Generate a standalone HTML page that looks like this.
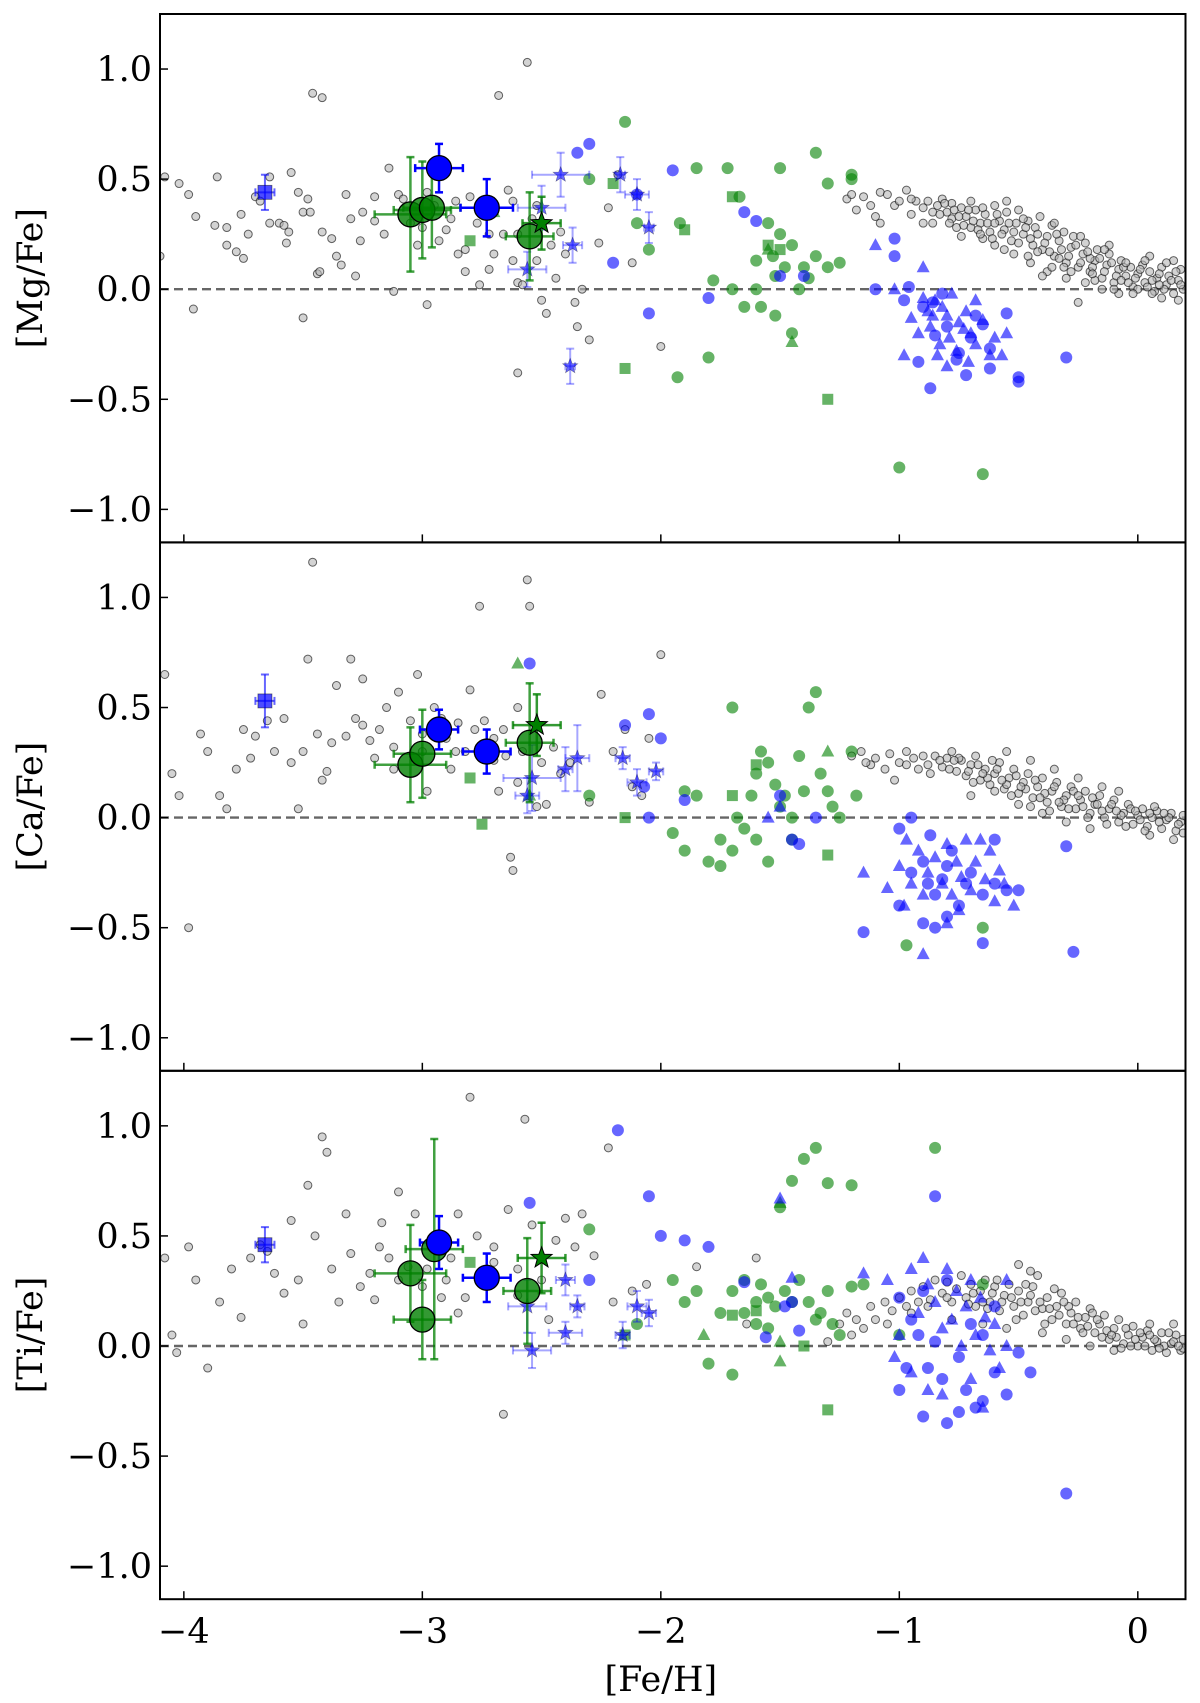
<!DOCTYPE html>
<html><head><meta charset="utf-8">
<style>
html,body{margin:0;padding:0;background:#fff;}
svg{display:block;font-family:"DejaVu Serif","Liberation Serif",serif;}
</style></head>
<body>
<svg id="chart" width="1200" height="1703" viewBox="0 0 1200 1703" xmlns="http://www.w3.org/2000/svg"></svg>
<script>
// ---- data ----
const panelLabels = ["[Mg/Fe]","[Ca/Fe]","[Ti/Fe]"];
const yTicks = [-1.0,-0.5,0.0,0.5,1.0];
const yTickLabels = ["\u22121.0","\u22120.5","0.0","0.5","1.0"];
const xTicks = [-4,-3,-2,-1,0];
const xTickLabels = ["\u22124","\u22123","\u22122","\u22121","0"];

const greyMg = [[-4.08,0.51],[-4.02,0.48],[-3.98,0.43],[-3.95,0.33],[-3.87,0.29],[-3.82,0.28],[-3.82,0.2],[-3.78,0.17],[-3.76,0.34],[-3.75,0.14],[-3.73,0.25],[-3.7,0.42],[-3.68,0.4],[-3.64,0.51],[-3.64,0.3],[-3.6,0.3],[-3.58,0.29],[-3.57,0.21],[-3.56,0.26],[-3.55,0.53],[-3.52,0.44],[-3.5,0.35],[-3.48,0.41],[-3.47,0.35],[-3.46,0.89],[-3.42,0.87],[-3.44,0.07],[-3.43,0.08],[-3.42,0.26],[-3.38,0.23],[-3.36,0.15],[-3.34,0.11],[-3.32,0.43],[-3.3,0.32],[-3.28,0.06],[-3.25,0.35],[-3.2,0.31],[-3.16,0.25],[-3.14,0.55],[-3.1,0.43],[-3.08,0.41],[-3.05,0.3],[-3.02,0.2],[-2.98,0.44],[-2.95,0.38],[-2.9,0.27],[-2.88,0.32],[-2.85,0.16],[-2.82,0.18],[-2.8,0.42],[-2.77,0.3],[-2.76,0.02],[-2.72,0.09],[-2.7,0.35],[-2.68,0.88],[-2.66,0.25],[-2.64,0.45],[-2.62,0.13],[-2.6,0.25],[-2.6,0.03],[-2.58,0.02],[-2.56,1.03],[-2.54,0.32],[-2.52,0.13],[-2.5,-0.05],[-2.48,-0.11],[-2.46,0.2],[-2.44,0.05],[-2.42,0.26],[-2.4,0.16],[-2.36,-0.06],[-2.33,0.0],[-2.3,-0.23],[-2.22,0.37],[-2.18,0.52],[-2.12,0.12],[-2.0,-0.26],[-2.26,0.21],[-2.6,-0.38],[-3.96,-0.09],[-3.5,-0.13],[-3.12,-0.01],[-2.98,-0.07],[-4.1,0.15],[-3.86,0.51],[-2.35,-0.17],[-3.0,0.28],[-2.93,0.22],[-2.86,0.4],[-2.72,0.25],[-2.62,0.4],[-2.7,0.16],[-3.2,0.42],[-3.26,0.22],[-2.82,0.08],[-2.52,0.38]];
const bandMg = [[-1.22,0.41],[-1.2,0.43],[-1.18,0.36],[-1.15,0.42],[-1.12,0.38],[-1.1,0.33],[-1.08,0.44],[-1.05,0.43],[-1.02,0.38],[-1.0,0.4],[-0.97,0.45],[-0.95,0.34],[-0.93,0.4],[-0.9,0.37],[-0.88,0.4],[-0.86,0.3],[-0.84,0.38],[-0.82,0.41],[-0.8,0.35],[-0.78,0.39],[-0.76,0.28],[-0.74,0.37],[-0.72,0.33],[-0.7,0.4],[-0.68,0.36],[-0.66,0.3],[-0.64,0.34],[-0.62,0.26],[-0.6,0.38],[-0.58,0.31],[-0.56,0.27],[-0.55,0.35],[-0.53,0.22],[-0.51,0.3],[-0.5,0.36],[-0.48,0.25],[-0.46,0.31],[-0.44,0.2],[-0.43,0.28],[-0.41,0.33],[-0.4,0.18],[-0.38,0.24],[-0.36,0.29],[-0.35,0.15],[-0.33,0.22],[-0.31,0.26],[-0.3,0.12],[-0.28,0.19],[-0.27,0.24],[-0.25,0.1],[-0.23,0.16],[-0.22,0.21],[-0.2,0.08],[-0.18,0.13],[-0.17,0.18],[-0.15,0.05],[-0.13,0.11],[-0.12,0.16],[-0.1,0.03],[-0.08,0.09],[-0.07,0.13],[-0.05,0.06],[-0.03,0.1],[-0.02,0.01],[0.0,0.07],[0.02,0.11],[0.03,0.03],[0.05,0.08],[0.07,-0.01],[0.08,0.05],[0.1,0.1],[0.12,0.02],[0.13,0.06],[0.15,-0.02],[0.17,0.04],[0.18,0.09],[0.19,0.0],[-0.6,0.2],[-0.52,0.16],[-0.45,0.12],[-0.38,0.08],[-0.3,0.05],[-0.22,0.03],[-0.15,0.0],[-0.08,-0.02],[-0.65,0.23],[-0.7,0.28],[-0.78,0.32],[-0.86,0.35],[-1.08,0.3],[-0.25,-0.06],[-0.12,0.2],[0.05,0.15],[-0.35,0.3],[-0.55,0.4],[0.15,0.13],[-0.4,0.06],[-0.2,0.14],[0.0,0.0],[0.1,-0.04],
 [-0.83,0.34],[-0.81,0.39],[-0.79,0.3],[-0.77,0.36],[-0.75,0.33],[-0.73,0.29],[-0.71,0.36],[-0.69,0.31],[-0.67,0.27],[-0.65,0.37],[-0.63,0.3],[-0.61,0.23],[-0.59,0.34],[-0.57,0.25],[-0.54,0.3],[-0.52,0.26],[-0.5,0.21],[-0.47,0.28],[-0.45,0.23],[-0.42,0.25],[-0.39,0.21],[-0.37,0.17],[-0.34,0.25],[-0.32,0.18],[-0.29,0.15],[-0.26,0.2],[-0.24,0.12],[-0.21,0.17],[-0.19,0.1],[-0.16,0.14],[-0.14,0.08],[-0.11,0.12],[-0.09,0.06],[-0.06,0.1],[-0.04,0.03],[-0.01,0.05],[0.01,0.09],[0.04,0.01],[0.06,0.04],[0.09,0.07],[0.11,0.0],[0.14,0.04],[0.16,0.08],[0.18,0.02],[-0.28,0.08],[-0.18,0.04],[-0.1,0.0],[-0.02,-0.02],[0.06,-0.02],[0.12,0.12],[-0.46,0.15],[-0.36,0.1],[-0.56,0.18],[-0.66,0.25],[-0.74,0.24],[-0.9,0.3],[-0.95,0.41],[-0.6,0.3],[-0.48,0.32],[-0.42,0.17],[-0.33,0.14],[-0.24,0.24],[-0.14,0.18],[-0.05,0.12],[0.03,0.13],[0.09,0.02],[0.17,-0.05],[-0.07,0.04],[-0.19,0.07],[-0.31,0.1]];
const greyCa = [[-4.08,0.65],[-4.05,0.2],[-4.02,0.1],[-3.98,-0.5],[-3.93,0.38],[-3.9,0.3],[-3.85,0.1],[-3.82,0.04],[-3.78,0.22],[-3.75,0.4],[-3.72,0.27],[-3.7,0.37],[-3.65,0.44],[-3.62,0.3],[-3.58,0.45],[-3.55,0.25],[-3.52,0.04],[-3.5,0.3],[-3.48,0.72],[-3.46,1.16],[-3.44,0.38],[-3.42,0.17],[-3.4,0.21],[-3.38,0.34],[-3.36,0.6],[-3.32,0.37],[-3.3,0.72],[-3.28,0.45],[-3.25,0.63],[-3.22,0.35],[-3.2,0.27],[-3.18,0.4],[-3.15,0.5],[-3.12,0.32],[-3.1,0.57],[-3.05,0.44],[-3.02,0.65],[-3.0,0.38],[-2.98,0.12],[-2.95,0.5],[-2.9,0.36],[-2.88,0.22],[-2.85,0.43],[-2.82,0.3],[-2.8,0.58],[-2.76,0.96],[-2.74,0.44],[-2.7,0.26],[-2.68,0.12],[-2.66,0.4],[-2.63,-0.18],[-2.62,-0.24],[-2.6,0.5],[-2.58,0.3],[-2.56,1.08],[-2.55,0.96],[-2.52,0.05],[-2.5,0.25],[-2.48,0.06],[-2.45,0.32],[-2.42,0.2],[-2.38,0.25],[-2.3,0.07],[-2.25,0.56],[-2.2,0.3],[-2.12,0.14],[-2.05,0.36],[-2.0,0.74],[-2.08,0.1],[-2.15,0.4],[-3.0,0.3],[-2.92,0.45],[-2.86,0.3],[-2.78,0.4],[-2.7,0.36],[-3.12,0.22],[-3.25,0.42],[-2.65,0.28],[-2.6,0.16]];
const bandCa = [[-1.2,0.28],[-1.16,0.3],[-1.12,0.24],[-1.1,0.27],[-1.06,0.22],[-1.04,0.29],[-1.0,0.25],[-0.97,0.3],[-0.94,0.27],[-0.92,0.22],[-0.9,0.28],[-0.88,0.24],[-0.85,0.28],[-0.82,0.23],[-0.8,0.27],[-0.78,0.3],[-0.76,0.21],[-0.74,0.26],[-0.72,0.19],[-0.7,0.24],[-0.68,0.28],[-0.66,0.17],[-0.64,0.22],[-0.62,0.15],[-0.6,0.2],[-0.58,0.25],[-0.56,0.13],[-0.54,0.18],[-0.52,0.22],[-0.5,0.11],[-0.48,0.16],[-0.46,0.2],[-0.44,0.09],[-0.42,0.14],[-0.4,0.18],[-0.38,0.07],[-0.36,0.12],[-0.34,0.16],[-0.32,0.05],[-0.3,0.1],[-0.28,0.14],[-0.26,0.04],[-0.24,0.08],[-0.22,0.12],[-0.2,0.02],[-0.18,0.06],[-0.16,0.1],[-0.14,0.0],[-0.12,0.04],[-0.1,0.08],[-0.08,-0.02],[-0.06,0.02],[-0.04,0.06],[-0.02,-0.03],[0.0,0.01],[0.02,0.04],[0.04,-0.04],[0.06,0.0],[0.08,0.03],[0.1,-0.05],[0.12,-0.01],[0.14,0.02],[0.16,-0.06],[0.18,-0.02],[0.19,0.01],[-0.6,0.12],[-0.5,0.06],[-0.4,0.02],[-0.3,-0.02],[-0.45,0.26],[-0.35,0.22],[-0.25,0.18],[-0.15,0.14],[0.05,-0.08],[0.15,-0.1],[-0.7,0.1],[-0.55,0.3],[-0.08,0.12],[-1.02,0.17],[-0.2,-0.05],
 [-0.87,0.2],[-0.83,0.26],[-0.79,0.22],[-0.75,0.27],[-0.71,0.21],[-0.67,0.24],[-0.63,0.18],[-0.59,0.22],[-0.55,0.15],[-0.51,0.19],[-0.47,0.13],[-0.43,0.17],[-0.39,0.11],[-0.35,0.14],[-0.31,0.08],[-0.27,0.12],[-0.23,0.05],[-0.19,0.09],[-0.15,0.03],[-0.11,0.06],[-0.07,0.01],[-0.03,0.04],[0.01,-0.01],[0.05,0.02],[0.09,-0.02],[0.13,0.0],[0.17,-0.03],[-0.65,0.2],[-0.57,0.17],[-0.49,0.14],[-0.41,0.09],[-0.33,0.07],[-0.25,0.1],[-0.17,0.06],[-0.09,0.03],[-0.01,0.03],[0.07,0.05],[0.11,0.02],[-0.53,0.1],[-0.45,0.05],[-0.37,0.03],[-0.29,0.04],[-0.21,0.0],[-0.13,-0.03],[-0.05,-0.04],[0.03,-0.06],[0.19,-0.07],[-0.77,0.26],[-0.69,0.16],[-0.61,0.26],[-0.97,0.24],[-1.14,0.25]];
const greyTi = [[-4.08,0.4],[-4.05,0.05],[-4.03,-0.03],[-3.98,0.45],[-3.95,0.3],[-3.9,-0.1],[-3.85,0.2],[-3.8,0.35],[-3.76,0.13],[-3.72,0.4],[-3.68,0.46],[-3.65,0.43],[-3.62,0.33],[-3.58,0.24],[-3.55,0.57],[-3.52,0.3],[-3.5,0.1],[-3.48,0.73],[-3.45,0.5],[-3.42,0.95],[-3.4,0.88],[-3.38,0.35],[-3.35,0.2],[-3.32,0.6],[-3.3,0.42],[-3.26,0.27],[-3.22,0.33],[-3.2,0.21],[-3.17,0.56],[-3.14,0.4],[-3.1,0.7],[-3.06,0.36],[-3.03,0.6],[-3.0,0.27],[-2.96,0.48],[-2.92,0.22],[-2.88,0.4],[-2.85,0.6],[-2.8,1.13],[-2.77,0.5],[-2.74,0.3],[-2.7,0.45],[-2.66,-0.31],[-2.64,0.62],[-2.6,0.23],[-2.57,1.03],[-2.54,0.55],[-2.5,0.3],[-2.47,0.12],[-2.44,0.48],[-2.4,0.58],[-2.36,0.45],[-2.33,0.6],[-2.28,0.41],[-2.22,0.9],[-2.2,0.2],[-2.12,0.25],[-2.06,0.28],[-1.85,0.36],[-1.64,0.1],[-1.6,0.4],[-2.98,0.35],[-2.9,0.3],[-2.82,0.22],[-2.7,0.38],[-3.1,0.3],[-3.18,0.45],[-2.6,0.35],[-2.85,0.15]];
const bandTi = [[-1.25,0.1],[-1.22,0.15],[-1.18,0.12],[-1.15,0.08],[-1.12,0.18],[-1.1,0.12],[-1.06,0.2],[-1.03,0.16],[-1.0,0.22],[-0.97,0.18],[-0.95,0.25],[-0.92,0.2],[-0.9,0.27],[-0.87,0.21],[-0.85,0.3],[-0.82,0.24],[-0.8,0.29],[-0.78,0.2],[-0.76,0.26],[-0.74,0.32],[-0.72,0.22],[-0.7,0.28],[-0.68,0.18],[-0.66,0.25],[-0.64,0.3],[-0.62,0.2],[-0.6,0.27],[-0.58,0.16],[-0.56,0.23],[-0.54,0.28],[-0.52,0.18],[-0.5,0.25],[-0.48,0.14],[-0.46,0.2],[-0.44,0.27],[-0.42,0.32],[-0.4,0.17],[-0.38,0.22],[-0.36,0.12],[-0.34,0.18],[-0.32,0.24],[-0.3,0.1],[-0.28,0.15],[-0.26,0.2],[-0.24,0.08],[-0.22,0.13],[-0.2,0.17],[-0.18,0.06],[-0.16,0.1],[-0.14,0.14],[-0.12,0.03],[-0.1,0.08],[-0.08,0.12],[-0.06,0.01],[-0.04,0.05],[-0.02,0.09],[0.0,0.0],[0.02,0.04],[0.04,0.07],[0.06,-0.02],[0.08,0.02],[0.1,0.06],[0.12,-0.03],[0.14,0.01],[0.16,0.05],[0.18,-0.02],[0.19,0.03],[-0.5,0.37],[-0.45,0.34],[-0.65,0.1],[-0.55,0.08],[-0.4,0.06],[-0.3,0.03],[-0.2,0.0],[-0.1,-0.02],[0.05,0.1],[0.15,0.1],[-0.78,0.12],[-1.2,0.05],[-1.3,0.02],
 [-0.69,0.24],[-0.65,0.2],[-0.61,0.24],[-0.57,0.2],[-0.53,0.22],[-0.49,0.2],[-0.45,0.23],[-0.41,0.2],[-0.37,0.17],[-0.33,0.14],[-0.29,0.18],[-0.25,0.13],[-0.21,0.09],[-0.17,0.12],[-0.13,0.07],[-0.09,0.04],[-0.05,0.08],[-0.01,0.03],[0.03,0.0],[0.07,0.03],[0.11,0.0],[0.15,0.02],[0.19,-0.01],[-0.47,0.28],[-0.43,0.16],[-0.35,0.26],[-0.27,0.1],[-0.19,0.15],[-0.11,0.05],[-0.03,0.0],[0.05,0.05],[0.13,0.06],[-0.59,0.3],[-0.63,0.17],[-0.71,0.19],[-0.8,0.22],[-0.88,0.18],[-0.95,0.15],[-1.05,0.1],[-0.23,0.06],[-0.15,0.04],[-0.07,-0.01],[0.01,0.06],[0.09,-0.01],[0.17,0.0],[-0.39,0.1],[-0.31,0.2],[-0.51,0.12]];
const greyAll = [greyMg.concat(bandMg), greyCa.concat(bandCa), greyTi.concat(bandTi)];

const blueCircles = [
 [[-2.35,0.62],[-2.3,0.66],[-1.95,0.54],[-2.2,0.12],[-2.05,-0.11],[-2.1,0.43],[-1.8,-0.04],[-1.65,0.35],[-1.6,0.31],[-1.5,0.06],[-1.4,0.06],[-1.02,0.23],[-1.02,0.15],[-1.1,0.0],[-0.98,-0.05],[-0.96,0.01],[-0.9,-0.08],[-0.85,-0.21],[-0.8,-0.17],[-0.75,-0.29],[-0.7,-0.22],[-0.92,-0.33],[-0.87,-0.45],[-0.72,-0.39],[-0.62,-0.36],[-0.5,-0.4],[-0.5,-0.42],[-0.3,-0.31],[-0.86,-0.06],[-0.82,-0.02],[-0.68,-0.12],[-0.65,-0.16],[-0.76,-0.32],[-0.55,-0.11],[-0.62,-0.27]],
 [[-2.55,0.7],[-2.15,0.42],[-2.05,0.47],[-2.0,0.36],[-2.07,0.14],[-2.05,0.0],[-1.9,0.08],[-1.5,0.1],[-1.35,0.0],[-1.45,-0.1],[-1.42,-0.12],[-1.15,-0.52],[-1.0,-0.05],[-0.95,-0.25],[-0.9,-0.2],[-0.88,-0.3],[-0.85,-0.35],[-0.82,-0.28],[-0.8,-0.22],[-0.78,-0.15],[-0.75,-0.4],[-0.72,-0.3],[-0.7,-0.25],[-0.65,-0.35],[-0.6,-0.3],[-0.55,-0.33],[-0.9,-0.48],[-0.85,-0.5],[-0.8,-0.45],[-0.65,-0.57],[-0.5,-0.33],[-0.3,-0.13],[-0.27,-0.61],[-0.95,0.0],[-1.0,-0.4],[-0.6,-0.1],[-0.87,-0.08]],
 [[-2.18,0.98],[-2.05,0.68],[-2.0,0.5],[-1.9,0.48],[-2.55,0.65],[-2.3,0.3],[-1.8,0.45],[-1.65,0.29],[-1.56,0.04],[-1.42,0.07],[-1.48,0.18],[-1.0,0.22],[-1.0,-0.2],[-0.95,0.12],[-0.9,0.25],[-0.92,0.05],[-0.88,-0.1],[-0.85,0.02],[-0.82,-0.15],[-0.8,0.3],[-0.75,-0.05],[-0.72,-0.2],[-0.7,0.1],[-0.68,-0.28],[-0.65,0.05],[-0.6,-0.12],[-0.55,-0.22],[-0.5,-0.03],[-0.45,-0.12],[-0.9,-0.32],[-0.8,-0.35],[-0.75,-0.3],[-0.65,-0.25],[-0.3,-0.67],[-0.6,0.18],[-0.97,-0.1],[-0.85,0.68],[-1.45,0.2]]
];
const blueTriangles = [
 [[-1.02,0.0],[-1.1,0.2],[-0.9,-0.04],[-0.88,-0.1],[-0.85,-0.05],[-0.82,-0.08],[-0.8,-0.12],[-0.78,-0.02],[-0.75,-0.15],[-0.72,-0.1],[-0.7,-0.2],[-0.68,-0.05],[-0.95,-0.13],[-0.92,-0.2],[-0.87,-0.17],[-0.83,-0.25],[-0.79,-0.22],[-0.76,-0.28],[-0.73,-0.18],[-0.65,-0.14],[-0.6,-0.22],[-0.57,-0.3],[-0.55,-0.2],[-0.98,-0.3],[-0.84,-0.3],[-0.8,-0.35],[-0.62,-0.3],[-0.9,0.1],[-0.71,-0.33],[-0.86,-0.12],[-0.68,-0.25]],
 [[-1.15,-0.25],[-1.05,-0.32],[-1.0,-0.22],[-0.95,-0.3],[-0.92,-0.15],[-0.9,-0.35],[-0.88,-0.25],[-0.85,-0.18],[-0.82,-0.3],[-0.8,-0.12],[-0.78,-0.35],[-0.76,-0.2],[-0.74,-0.27],[-0.72,-0.1],[-0.7,-0.33],[-0.68,-0.2],[-0.66,-0.1],[-0.64,-0.28],[-0.62,-0.15],[-0.6,-0.38],[-0.58,-0.24],[-0.56,-0.3],[-0.52,-0.4],[-0.9,-0.62],[-0.8,-0.48],[-0.75,-0.42],[-0.98,-0.4],[-1.5,0.05],[-1.55,0.0],[-0.97,-0.1]],
 [[-1.15,0.33],[-1.05,0.3],[-1.0,0.05],[-0.95,0.35],[-0.92,0.15],[-0.9,0.4],[-0.88,0.28],[-0.85,0.2],[-0.82,0.08],[-0.8,0.35],[-0.78,0.12],[-0.76,0.25],[-0.74,0.0],[-0.72,0.18],[-0.7,0.3],[-0.68,0.05],[-0.66,0.22],[-0.64,0.13],[-0.62,-0.02],[-0.6,0.1],[-0.58,-0.1],[-0.55,0.0],[-0.95,-0.12],[-0.88,-0.2],[-0.82,-0.22],[-0.7,-0.15],[-0.65,-0.28],[-1.02,-0.05],[-0.55,0.3],[-1.5,0.67],[-1.45,0.31]]
];
const greenCircles = [
 [[-2.3,0.5],[-2.1,0.3],[-2.15,0.76],[-2.05,0.18],[-1.93,-0.4],[-1.8,-0.31],[-1.85,0.55],[-1.72,0.55],[-1.67,0.42],[-1.6,0.13],[-1.55,0.3],[-1.5,0.55],[-1.5,0.25],[-1.45,0.2],[-1.4,0.1],[-1.38,0.05],[-1.35,0.15],[-1.35,0.62],[-1.3,0.48],[-1.25,0.12],[-1.2,0.5],[-1.0,-0.81],[-0.65,-0.84],[-1.58,-0.08],[-1.45,-0.2],[-1.52,-0.12],[-1.42,0.0],[-1.6,0.0],[-1.65,-0.08],[-1.7,0.0],[-1.78,0.04],[-1.53,0.15],[-1.52,0.06],[-1.48,0.1],[-1.3,0.1],[-1.2,0.52],[-1.92,0.3]],
 [[-2.3,0.1],[-1.95,-0.07],[-1.9,-0.15],[-1.8,-0.2],[-1.75,-0.1],[-1.7,0.5],[-1.68,0.0],[-1.65,-0.05],[-1.62,0.1],[-1.6,0.2],[-1.58,0.3],[-1.55,0.25],[-1.52,0.15],[-1.5,0.05],[-1.48,0.1],[-1.45,0.0],[-1.42,0.28],[-1.4,0.12],[-1.38,0.5],[-1.35,0.57],[-1.33,0.2],[-1.3,0.12],[-1.28,0.05],[-1.25,0.0],[-1.2,0.3],[-1.18,0.1],[-1.55,-0.2],[-1.6,-0.1],[-1.7,-0.15],[-1.75,-0.22],[-1.45,-0.1],[-0.97,-0.58],[-0.65,-0.5],[-1.85,0.1],[-1.9,0.12]],
 [[-2.3,0.53],[-2.1,0.1],[-1.95,0.3],[-1.9,0.2],[-1.85,0.25],[-1.8,-0.08],[-1.75,0.15],[-1.7,-0.13],[-1.7,0.25],[-1.65,0.15],[-1.6,0.2],[-1.58,0.28],[-1.55,0.22],[-1.52,0.18],[-1.5,0.63],[-1.48,0.25],[-1.45,0.75],[-1.42,0.3],[-1.4,0.85],[-1.38,0.2],[-1.35,0.9],[-1.35,0.12],[-1.3,0.74],[-1.3,0.25],[-1.28,0.1],[-1.25,0.05],[-1.2,0.73],[-1.2,0.27],[-1.55,0.08],[-1.6,0.1],[-1.45,0.2],[-1.65,0.3],[-1.33,0.15],[-1.0,0.05],[-0.85,0.9],[-1.15,0.28],[-0.65,0.28]]
];
const greenSquares = [
 [[-2.2,0.48],[-1.7,0.42],[-1.9,0.27],[-1.3,-0.5],[-2.15,-0.36],[-1.55,0.2],[-2.8,0.22],[-1.5,0.18]],
 [[-2.15,0.0],[-2.8,0.18],[-2.75,-0.03],[-1.7,0.1],[-1.3,-0.17],[-1.6,0.24]],
 [[-1.3,-0.29],[-1.4,0.0],[-1.7,0.14],[-2.8,0.38],[-2.15,0.05],[-1.6,0.16]]
];
const greenTriangles = [
 [[-1.45,-0.24],[-1.55,0.18],[-2.7,0.35]],
 [[-2.6,0.7],[-1.3,0.3],[-2.55,0.1]],
 [[-1.5,0.65],[-1.5,-0.07],[-1.82,0.05],[-1.5,0.02]]
];
const blueStars = [
 [[-2.56,0.09,0.08,0.08],[-2.5,0.37,0.1,0.1],[-2.42,0.52,0.12,0.1],[-2.37,0.2,0.04,0.08],[-2.38,-0.35,0.02,0.08],[-2.17,0.52,0.02,0.08],[-2.1,0.43,0.05,0.07],[-2.05,0.28,0.02,0.07]],
 [[-2.56,0.1,0.05,0.08],[-2.54,0.18,0.12,0.15],[-2.4,0.22,0.03,0.1],[-2.35,0.27,0.05,0.15],[-2.16,0.27,0.03,0.05],[-2.1,0.16,0.04,0.06],[-2.02,0.21,0.03,0.04]],
 [[-2.56,0.18,0.08,0.12],[-2.54,-0.02,0.08,0.08],[-2.4,0.06,0.07,0.05],[-2.4,0.3,0.04,0.07],[-2.35,0.18,0.03,0.05],[-2.16,0.05,0.03,0.06],[-2.1,0.18,0.04,0.07],[-2.05,0.15,0.03,0.06]]
];
const greenStars = [[-2.5,0.3,0.08,0.12],[-2.52,0.42,0.1,0.14],[-2.5,0.4,0.1,0.16]];
const blueSquare = [[-3.66,0.44,0.04,0.08],[-3.66,0.53,0.04,0.12],[-3.66,0.46,0.04,0.08]];
const bigGreen = [
 [[-3.05,0.34,0.15,0.26],[-3.0,0.36,0.12,0.22],[-2.96,0.37,0.12,0.18],[-2.55,0.24,0.1,0.2]],
 [[-3.05,0.24,0.15,0.17],[-3.0,0.29,0.12,0.2],[-2.55,0.34,0.1,0.27]],
 [[-3.05,0.33,0.15,0.22],[-3.0,0.12,0.12,0.18],[-2.95,0.44,0.12,0.5],[-2.56,0.25,0.1,0.24]]
];
const bigBlue = [
 [[-2.93,0.55,0.1,0.11],[-2.73,0.37,0.11,0.13]],
 [[-2.93,0.4,0.08,0.09],[-2.73,0.3,0.1,0.1]],
 [[-2.93,0.47,0.08,0.12],[-2.73,0.31,0.1,0.11]]
];

// ---- layout ----
const X0=160, X1=1185.5, XMIN=-4.1, XMAX=0.2;
const PT=[14,542.4,1070.8], PH=528.4, YMIN=-1.15, YMAX=1.25;
const NS="http://www.w3.org/2000/svg";
const svg=document.getElementById('chart');
function xs(v){return X0+(v-XMIN)/(XMAX-XMIN)*(X1-X0);}
function ys(p,v){return PT[p]+(YMAX-v)/(YMAX-YMIN)*PH;}
function mk(tag,attrs,parent){const e=document.createElementNS(NS,tag);for(const k in attrs)e.setAttribute(k,attrs[k]);(parent||svg).appendChild(e);return e;}
const BLUE="#0000ff", GREEN="#008000";
function starPts(cx,cy,r){let s=[];for(let i=0;i<10;i++){const a=-Math.PI/2+i*Math.PI/5;const rr=i%2?r*0.42:r;s.push((cx+rr*Math.cos(a)).toFixed(1)+","+(cy+rr*Math.sin(a)).toFixed(1));}return s.join(" ");}
function errbar(g,p,d,color,op,w){
  const cx=xs(d[0]),cy=ys(p,d[1]);
  const x1=xs(d[0]-d[2]),x2=xs(d[0]+d[2]),y1=ys(p,d[1]+d[3]),y2=ys(p,d[1]-d[3]);
  const a={stroke:color,'stroke-width':w,'stroke-opacity':op};
  mk('line',Object.assign({x1:x1,y1:cy,x2:x2,y2:cy},a),g);
  mk('line',Object.assign({x1:cx,y1:y1,x2:cx,y2:y2},a),g);
  mk('line',Object.assign({x1:x1,y1:cy-4,x2:x1,y2:cy+4},a),g);
  mk('line',Object.assign({x1:x2,y1:cy-4,x2:x2,y2:cy+4},a),g);
  mk('line',Object.assign({x1:cx-4,y1:y1,x2:cx+4,y2:y1},a),g);
  mk('line',Object.assign({x1:cx-4,y1:y2,x2:cx+4,y2:y2},a),g);
}

for(let p=0;p<3;p++){
  const top=PT[p], bot=PT[p]+PH;
  const g=mk('g',{});
  
  
  const cp=mk('clipPath',{id:'cp'+p},g);
  mk('rect',{x:X0,y:top,width:X1-X0,height:PH},cp);
  const pg=mk('g',{'clip-path':'url(#cp'+p+')'},g);
  const zl=mk('line',{x1:X0,x2:X1,y1:ys(p,0),y2:ys(p,0),stroke:'#666','stroke-width':2.4,'stroke-dasharray':'9,5'},pg);
  
  
  const gg=mk('g',{},pg);
  
  
  greyAll[p].forEach(d=>{mk('circle',{cx:xs(d[0]),cy:ys(p,d[1]),r:4,fill:'#b5b5b5','fill-opacity':0.6,stroke:'#000','stroke-opacity':0.6,'stroke-width':1},gg);});
  const cg=mk('g',{},pg);
  
  
  greenCircles[p].forEach(d=>mk('circle',{cx:xs(d[0]),cy:ys(p,d[1]),r:6,fill:GREEN,'fill-opacity':0.6},cg));
  greenSquares[p].forEach(d=>mk('rect',{x:xs(d[0])-5.5,y:ys(p,d[1])-5.5,width:11,height:11,fill:GREEN,'fill-opacity':0.6},cg));
  greenTriangles[p].forEach(d=>{const x=xs(d[0]),y=ys(p,d[1]);mk('polygon',{points:`${x},${y-7} ${x-6.5},${y+5} ${x+6.5},${y+5}`,fill:GREEN,'fill-opacity':0.6},cg);});
  blueCircles[p].forEach(d=>mk('circle',{cx:xs(d[0]),cy:ys(p,d[1]),r:6,fill:BLUE,'fill-opacity':0.6},cg));
  blueTriangles[p].forEach(d=>{const x=xs(d[0]),y=ys(p,d[1]);mk('polygon',{points:`${x},${y-7} ${x-6.5},${y+5} ${x+6.5},${y+5}`,fill:BLUE,'fill-opacity':0.6},cg);});
  const sg=mk('g',{},pg);
  
  
  blueStars[p].forEach(d=>{errbar(sg,p,d,BLUE,0.35,2);mk('polygon',{points:starPts(xs(d[0]),ys(p,d[1]),8),fill:BLUE,'fill-opacity':0.6,stroke:'#000','stroke-opacity':0.4,'stroke-width':0.6},sg);});
  const bs=blueSquare[p];
  errbar(sg,p,bs,BLUE,0.6,2);
  mk('rect',{x:xs(bs[0])-7,y:ys(p,bs[1])-7,width:14,height:14,fill:BLUE,'fill-opacity':0.7,stroke:'#000','stroke-opacity':0.5,'stroke-width':0.8},sg);
  const bg=mk('g',{},pg);
  
  
  bigGreen[p].forEach(d=>errbar(bg,p,d,GREEN,0.75,2.5));
  const gs=greenStars[p];
  errbar(bg,p,gs,GREEN,0.8,2.5);
  bigBlue[p].forEach(d=>errbar(bg,p,d,BLUE,1,2.5));
  bigGreen[p].forEach(d=>mk('circle',{cx:xs(d[0]),cy:ys(p,d[1]),r:12.5,fill:GREEN,'fill-opacity':0.8,stroke:'#000','stroke-width':1.3},bg));
  mk('polygon',{points:starPts(xs(gs[0]),ys(p,gs[1]),11),fill:GREEN,stroke:'#000','stroke-width':1},bg);
  bigBlue[p].forEach(d=>mk('circle',{cx:xs(d[0]),cy:ys(p,d[1]),r:12.5,fill:BLUE,stroke:'#000','stroke-width':1.3},bg));
  const fr=mk('rect',{x:X0,y:top,width:X1-X0,height:PH,fill:'none',stroke:'#000','stroke-width':2},g);
  
  
  yTicks.forEach((t,i)=>{
    const y=ys(p,t);
    mk('line',{x1:X0,x2:X0+8,y1:y,y2:y,stroke:'#000','stroke-width':1.5},g);
    const tx=mk('text',{x:X0-8,y:y+12,'text-anchor':'end','font-size':35,fill:'#000'},g);
    tx.textContent=yTickLabels[i];
    
    
  });
  xTicks.forEach((t,i)=>{
    const x=xs(t);
    mk('line',{x1:x,x2:x,y1:bot,y2:bot-8,stroke:'#000','stroke-width':1.5},g);
  });
  const yl=mk('text',{x:0,y:0,transform:`translate(42,${top+PH/2}) rotate(-90)`,'text-anchor':'middle','font-size':35,fill:'#000'},g);
  yl.textContent=panelLabels[p];
  
  
}
const lastBot=PT[2]+PH;
xTicks.forEach((t,i)=>{
  const tx=mk('text',{x:xs(t),y:lastBot+44,'text-anchor':'middle','font-size':35,fill:'#000'});
  tx.textContent=xTickLabels[i];
  
  
});
const xl=mk('text',{x:xs(-2),y:lastBot+92,'text-anchor':'middle','font-size':35,fill:'#000'});
xl.textContent="[Fe/H]";


</script>
</body></html>
